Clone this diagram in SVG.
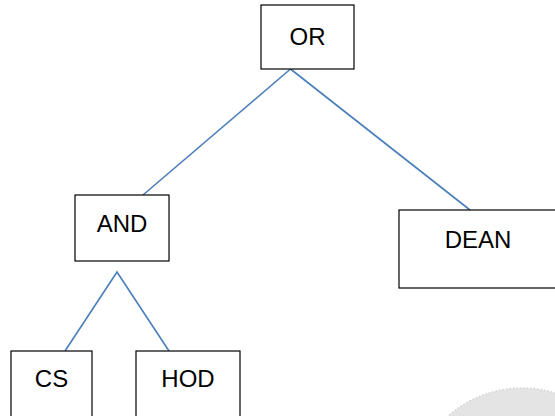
<svg xmlns="http://www.w3.org/2000/svg" width="555" height="416" viewBox="0 0 555 416">
<style>
.box{fill:#fff;stroke:#000;stroke-width:1.2}
.lbl{font-family:"Liberation Sans",Arial,sans-serif;font-size:24px;fill:#000;text-anchor:middle}
.conn{stroke:#4A7EBB;stroke-width:1.6;fill:none}
</style>
<rect width="555" height="416" fill="#fff"/>
<circle cx="522" cy="500" r="112" fill="#e4e4e4" stroke="#d2d2d2" stroke-width="1.5" stroke-dasharray="1.5 2"/>
<g id="connectors">
<line class="conn" x1="290.5" y1="69" x2="143" y2="195"/>
<line class="conn" x1="290.5" y1="69" x2="470" y2="210"/>
<polyline class="conn" points="65,351 117,272 169,351"/>
</g>
<g id="node-or">
<rect class="box" x="261" y="5" width="93" height="64"/>
<text class="lbl" x="307.5" y="45">OR</text>
</g>
<g id="node-and">
<rect class="box" x="75" y="195" width="94" height="66"/>
<text class="lbl" x="122" y="232">AND</text>
</g>
<g id="node-dean">
<rect class="box" x="399" y="210" width="170" height="78"/>
<text class="lbl" x="478" y="248">DEAN</text>
</g>
<g id="node-cs">
<rect class="box" x="11" y="351" width="81" height="80"/>
<text class="lbl" x="51.5" y="387">CS</text>
</g>
<g id="node-hod">
<rect class="box" x="136" y="351" width="104" height="80"/>
<text class="lbl" x="188" y="387">HOD</text>
</g>
</svg>
